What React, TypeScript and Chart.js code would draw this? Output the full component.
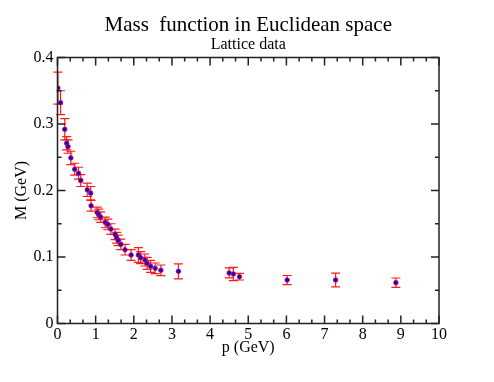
import React, { useEffect, useRef } from "react";
import { Chart, registerables } from "chart.js";

Chart.register(...registerables);

const titleText = "Mass  function in Euclidean space";
const subtitleText = "Lattice data";
const xAxisTitle = "p (GeV)";
const yAxisTitle = "M (GeV)";

const momentum = [0.01, 0.08, 0.19, 0.24, 0.275, 0.35, 0.45, 0.55, 0.61, 0.78, 0.87, 0.88, 1.04, 1.08, 1.13, 1.25, 1.32, 1.4, 1.51, 1.55, 1.59, 1.66, 1.77, 1.93, 2.12, 2.18, 2.29, 2.35, 2.44, 2.56, 2.71, 3.17, 4.5, 4.61, 4.77, 6.02, 7.29, 8.87];
const mass = [0.354, 0.332, 0.292, 0.271, 0.266, 0.249, 0.232, 0.226, 0.215, 0.201, 0.196, 0.177, 0.167, 0.164, 0.16, 0.152, 0.149, 0.142, 0.134, 0.129, 0.125, 0.119, 0.111, 0.103, 0.103, 0.099, 0.0955, 0.0905, 0.086, 0.083, 0.08, 0.0785, 0.076, 0.0744, 0.0704, 0.0654, 0.0654, 0.0614];
const massError = [0.024, 0.018, 0.016, 0.01, 0.01, 0.01, 0.009, 0.009, 0.009, 0.01, 0.01, 0.008, 0.008, 0.008, 0.008, 0.008, 0.008, 0.008, 0.008, 0.008, 0.008, 0.008, 0.008, 0.008, 0.011, 0.009, 0.009, 0.009, 0.009, 0.008, 0.008, 0.0113, 0.0075, 0.01, 0.005, 0.0068, 0.0103, 0.007];

const xTicks = [0, 1, 2, 3, 4, 5, 6, 7, 8, 9, 10];
const yTicks = [0, 0.1, 0.2, 0.3, 0.4];

const SERIF = "'Liberation Serif', 'Times New Roman', serif";

const framePlugin = {
  id: "framePlugin",
  beforeDatasetsDraw(chart: any) {
    const ctx = chart.ctx;
    const xs = chart.scales.x;
    const ys = chart.scales.y;
    ctx.save();
    ctx.strokeStyle = "#ff1a1a";
    ctx.lineWidth = 1.2;
    const cap = 4.5;
    for (let i = 0; i < momentum.length; i++) {
      const px = xs.getPixelForValue(momentum[i]);
      const y1 = ys.getPixelForValue(mass[i] + massError[i]);
      const y2 = ys.getPixelForValue(mass[i] - massError[i]);
      ctx.beginPath();
      ctx.moveTo(px, y1);
      ctx.lineTo(px, y2);
      ctx.moveTo(px - cap, y1);
      ctx.lineTo(px + cap, y1);
      ctx.moveTo(px - cap, y2);
      ctx.lineTo(px + cap, y2);
      ctx.stroke();
    }
    ctx.restore();
  },
  afterDraw(chart: any) {
    const ctx = chart.ctx;
    const xs = chart.scales.x;
    const ys = chart.scales.y;
    const { left, right, top, bottom } = chart.chartArea;
    ctx.save();
    ctx.strokeStyle = "#222";
    ctx.lineWidth = 1.5;
    ctx.beginPath();
    for (let k = 0; k <= 30; k++) {
      const v = k / 3;
      const len = k % 3 === 0 ? 8 : 4;
      const px = xs.getPixelForValue(v);
      ctx.moveTo(px, bottom);
      ctx.lineTo(px, bottom - len);
      ctx.moveTo(px, top);
      ctx.lineTo(px, top + len);
    }
    for (let k = 0; k <= 8; k++) {
      const v = k * 0.05;
      const len = k % 2 === 0 ? 8 : 4;
      const py = ys.getPixelForValue(v);
      ctx.moveTo(left, py);
      ctx.lineTo(left + len, py);
      ctx.moveTo(right, py);
      ctx.lineTo(right - len, py);
    }
    ctx.stroke();
    ctx.strokeRect(left, top, right - left, bottom - top);

    ctx.fillStyle = "#000";
    ctx.textAlign = "center";
    ctx.textBaseline = "alphabetic";
    const cx = (left + right) / 2;
    ctx.font = `21px ${SERIF}`;
    ctx.fillText(titleText, cx, 30.5);
    ctx.font = `16px ${SERIF}`;
    ctx.fillText(subtitleText, cx, 49);
    ctx.fillText(xAxisTitle, cx, 352);
    ctx.save();
    ctx.translate(26, (top + bottom) / 2);
    ctx.rotate(-Math.PI / 2);
    ctx.fillText(yAxisTitle, 0, 0);
    ctx.restore();
    ctx.restore();
  },
};

function fmt(v: number) {
  return String(Number(v.toFixed(2)));
}

export default function App() {
  const ref = useRef<HTMLCanvasElement | null>(null);
  useEffect(() => {
    if (!ref.current) return;
    const chart = new Chart(ref.current, {
      type: "scatter",
      data: {
        datasets: [
          {
            data: momentum.map((p, i) => ({ x: p, y: mass[i] })),
            pointRadius: 2.3,
            pointBackgroundColor: "#2200cc",
            pointBorderColor: "#c0104a",
            pointBorderWidth: 0.8,
            showLine: false,
          },
        ],
      },
      options: {
        responsive: false,
        animation: false,
        events: [],
        layout: { padding: { top: 57.5, right: 55, left: 0, bottom: 0 } },
        plugins: {
          legend: { display: false },
          tooltip: { enabled: false },
          title: { display: false },
        },
        scales: {
          x: {
            type: "linear",
            min: 0,
            max: 10,
            afterBuildTicks: (s: any) => {
              s.ticks = xTicks.map((v) => ({ value: v }));
            },
            afterFit: (s: any) => {
              s.height = 58.5;
            },
            grid: { display: false, drawTicks: false, tickLength: 0 },
            border: { display: false },
            ticks: {
              padding: 2,
              color: "#000",
              font: { family: SERIF, size: 16 },
              maxRotation: 0,
              callback: (v: any) => fmt(Number(v)),
            },
          },
          y: {
            type: "linear",
            min: 0,
            max: 0.4,
            afterBuildTicks: (s: any) => {
              s.ticks = yTicks.map((v) => ({ value: v }));
            },
            afterFit: (s: any) => {
              s.width = 57.5;
            },
            grid: { display: false, drawTicks: false, tickLength: 0 },
            border: { display: false },
            ticks: {
              padding: 4,
              color: "#000",
              font: { family: SERIF, size: 16 },
              callback: (v: any) => fmt(Number(v)),
            },
          },
        },
      },
      plugins: [framePlugin],
    });
    return () => chart.destroy();
  }, []);
  return (
    <div style={{ position: "absolute", left: 0, top: 0, width: 494, height: 382, background: "#fff" }}>
      <canvas ref={ref} width={494} height={382} style={{ width: 494, height: 382, display: "block" }} />
    </div>
  );
}
